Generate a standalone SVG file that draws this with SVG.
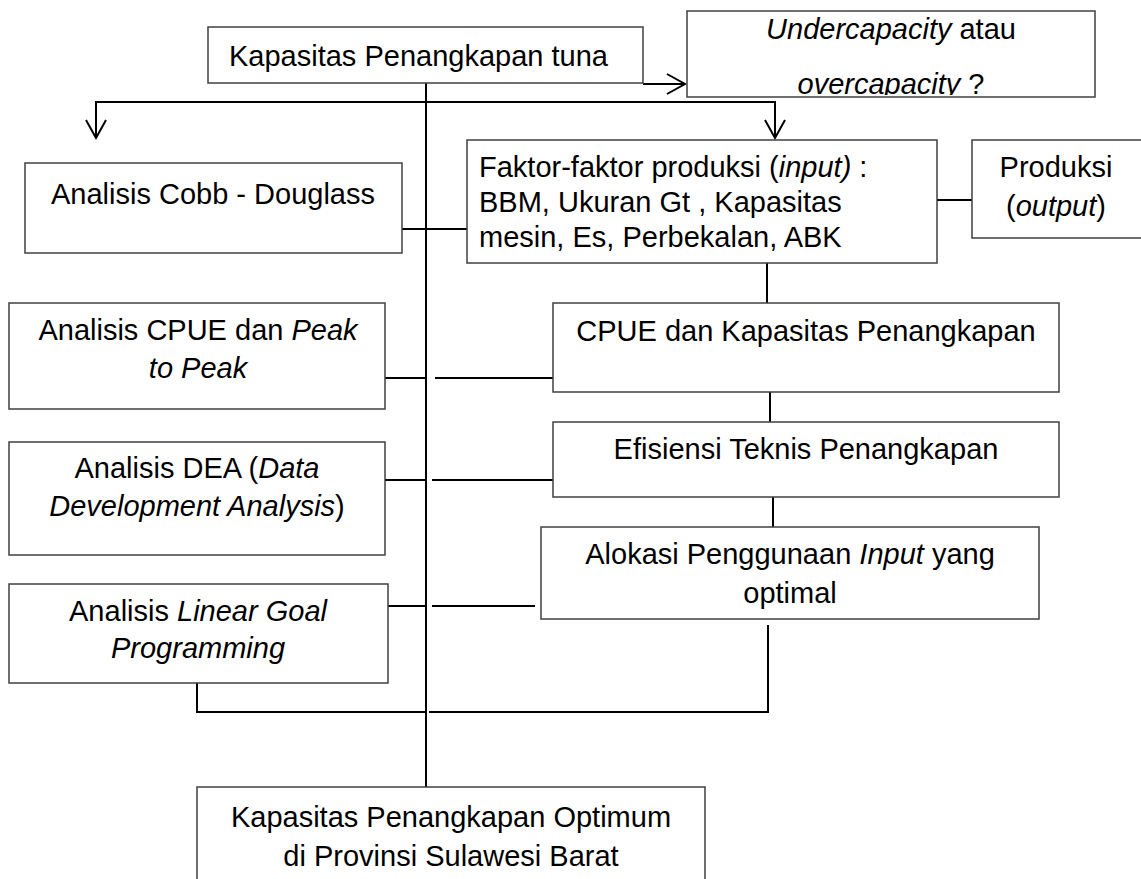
<svg xmlns="http://www.w3.org/2000/svg" width="1141" height="879" viewBox="0 0 1141 879">
  <style>
    .box { fill: #ffffff; stroke: #404040; stroke-width: 1.5; }
    .t { font-family: "Liberation Sans", Arial, sans-serif; font-size: 29px; fill: #000; }
    .c { text-anchor: middle; }
    .i { font-style: italic; }
    .ln { fill: none; stroke: #000; stroke-width: 2; }
  </style>
  <defs>
    <clipPath id="clipB"><rect x="687" y="11" width="408" height="84"/></clipPath>
  </defs>
  <rect width="1141" height="879" fill="#ffffff"/>

  <g id="connectors">
    <!-- trunk -->
    <line class="ln" x1="426" y1="83" x2="426" y2="787"/>
    <!-- top branch -->
    <polyline class="ln" points="96,137 96,102 775,102 775,137"/>
    <polyline class="ln" points="86,120 96,138 106,120"/>
    <polyline class="ln" points="765,120 775,138 785,120"/>
    <!-- arrow to Undercapacity -->
    <line class="ln" x1="643" y1="84" x2="685" y2="84"/>
    <polyline class="ln" points="667,74 685,84 667,94"/>
    <!-- Cobb to Faktor -->
    <line class="ln" x1="402" y1="229" x2="467" y2="229"/>
    <!-- Faktor to Produksi -->
    <line class="ln" x1="937" y1="200" x2="972" y2="200"/>
    <!-- Faktor to CPUE -->
    <line class="ln" x1="767" y1="263" x2="767" y2="303"/>
    <!-- CPUE to Efisiensi -->
    <line class="ln" x1="770" y1="392" x2="770" y2="422"/>
    <!-- Efisiensi to Alokasi -->
    <line class="ln" x1="773" y1="497" x2="773" y2="527"/>
    <!-- CPUE left/right -->
    <line class="ln" x1="385" y1="378" x2="426" y2="378"/>
    <line class="ln" x1="435" y1="378" x2="553" y2="378"/>
    <!-- DEA -->
    <line class="ln" x1="385" y1="480" x2="426" y2="480"/>
    <line class="ln" x1="432" y1="480" x2="553" y2="480"/>
    <!-- LGP -->
    <line class="ln" x1="388" y1="606" x2="426" y2="606"/>
    <line class="ln" x1="432" y1="606" x2="535" y2="606"/>
    <!-- bottom loop -->
    <polyline class="ln" points="197,683 197,712 426,712"/>
    <polyline class="ln" points="429,712 768,712 768,625"/>
  </g>

  <g id="node-kapasitas-tuna">
    <rect class="box" x="208" y="27" width="435" height="56"/>
    <text class="t" x="229" y="66">Kapasitas Penangkapan tuna</text>
  </g>

  <g id="node-under-over">
    <rect class="box" x="687" y="11" width="408" height="86"/>
    <g clip-path="url(#clipB)">
      <text class="t c" x="891" y="39"><tspan class="i">Undercapacity</tspan> atau</text>
      <text class="t c" x="891" y="94"><tspan class="i">overcapacity</tspan> ?</text>
    </g>
  </g>

  <g id="node-cobb">
    <rect class="box" x="25" y="163" width="377" height="90"/>
    <text class="t c" x="213" y="204">Analisis Cobb - Douglass</text>
  </g>

  <g id="node-faktor">
    <rect class="box" x="467" y="140" width="470" height="123"/>
    <text class="t" x="479" y="177">Faktor-faktor produksi (<tspan class="i">input)</tspan> :</text>
    <text class="t" x="479" y="212">BBM, Ukuran Gt , Kapasitas</text>
    <text class="t" x="479" y="247">mesin, Es, Perbekalan, ABK</text>
  </g>

  <g id="node-produksi">
    <rect class="box" x="972" y="140" width="175" height="98"/>
    <text class="t c" x="1056" y="177">Produksi</text>
    <text class="t c" x="1056" y="216">(<tspan class="i">output</tspan>)</text>
  </g>

  <g id="node-cpue-peak">
    <rect class="box" x="9" y="303" width="376" height="106"/>
    <text class="t c" x="198" y="340">Analisis CPUE dan <tspan class="i">Peak</tspan></text>
    <text class="t c i" x="198" y="378">to Peak</text>
  </g>

  <g id="node-cpue-kapasitas">
    <rect class="box" x="553" y="303" width="506" height="89"/>
    <text class="t c" x="806" y="341">CPUE dan Kapasitas Penangkapan</text>
  </g>

  <g id="node-dea">
    <rect class="box" x="9" y="442" width="376" height="113"/>
    <text class="t c" x="197" y="478">Analisis DEA (<tspan class="i">Data</tspan></text>
    <text class="t c" x="197" y="516"><tspan class="i">Development Analysis</tspan>)</text>
  </g>

  <g id="node-efisiensi">
    <rect class="box" x="553" y="422" width="506" height="75"/>
    <text class="t c" x="806" y="459">Efisiensi Teknis Penangkapan</text>
  </g>

  <g id="node-lgp">
    <rect class="box" x="9" y="584" width="379" height="99"/>
    <text class="t c" x="198" y="621">Analisis <tspan class="i">Linear Goal</tspan></text>
    <text class="t c i" x="198" y="658">Programming</text>
  </g>

  <g id="node-alokasi">
    <rect class="box" x="541" y="527" width="498" height="92"/>
    <text class="t c" x="790" y="564">Alokasi Penggunaan <tspan class="i">Input</tspan> yang</text>
    <text class="t c" x="790" y="603">optimal</text>
  </g>

  <g id="node-optimum">
    <rect class="box" x="197" y="787" width="508" height="110"/>
    <text class="t c" x="451" y="827">Kapasitas Penangkapan Optimum</text>
    <text class="t c" x="451" y="866">di Provinsi Sulawesi Barat</text>
  </g>
</svg>
